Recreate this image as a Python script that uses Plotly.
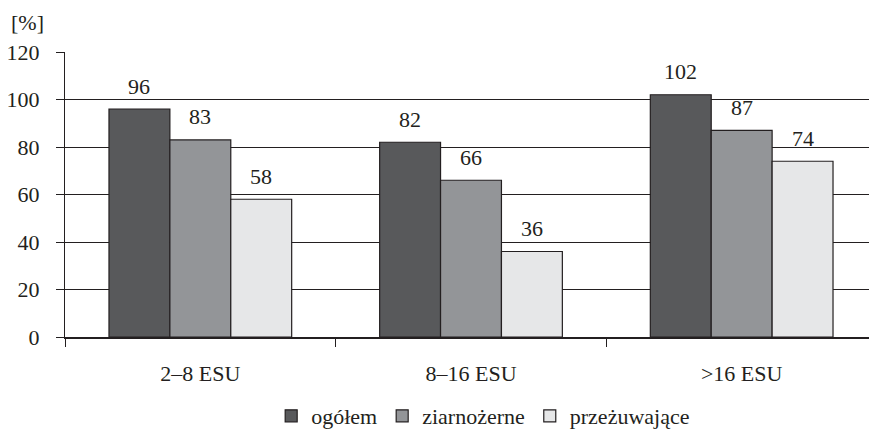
import plotly.graph_objects as go

# data
categories = ["2–8 ESU", "8–16 ESU", ">16 ESU"]
series_names = ["ogółem", "ziarnożerne", "przeżuwające"]
ogolem = [96, 82, 102]
ziarnozerne = [83, 66, 87]
przezuwajace = [58, 36, 74]

colors = ["#58595b", "#939598", "#e6e7e8"]
FONT = "Liberation Serif"
INK = "#231f20"
FS = 22

fig = go.Figure()

all_values = [ogolem, ziarnozerne, przezuwajace]
for name, vals, color in zip(series_names, all_values, colors):
    fig.add_trace(go.Bar(
        x=categories,
        y=vals,
        name=name,
        marker=dict(color=color, line=dict(color=INK, width=1.2)),
    ))

# value labels above the bars
bar_w = 0.225
annotations = []
for k, vals in enumerate(all_values):
    offset = (k - 1) * bar_w
    for i, v in enumerate(vals):
        annotations.append(dict(
            x=i + offset, y=v, xref="x", yref="y",
            text=str(v), showarrow=False,
            yanchor="middle", yshift=23,
            font=dict(family=FONT, size=FS, color=INK),
        ))

# axis unit label
annotations.append(dict(
    x=-56 / 812, y=1 + 30 / 285, xref="paper", yref="paper", text="[%]",
    showarrow=False, xanchor="left", yanchor="middle",
    font=dict(family=FONT, size=FS, color=INK),
))

# the page body adds an 8px offset, margins compensate for it
fig.update_layout(
    width=877, height=432,
    margin=dict(l=57, r=8, t=44, b=103, autoexpand=False),
    paper_bgcolor="white", plot_bgcolor="white",
    barmode="group", bargap=0.325, bargroupgap=0,
    font=dict(family=FONT, size=FS, color=INK),
    showlegend=True,
    legend=dict(
        orientation="h", x=0.515, xanchor="center",
        yref="container", y=24 / 432, yanchor="middle",
        font=dict(family=FONT, size=FS, color=INK),
        itemwidth=30, traceorder="normal",
    ),
    annotations=annotations,
)

fig.update_yaxes(
    range=[0, 120], dtick=20, automargin=False,
    showgrid=True, gridcolor=INK, gridwidth=1,
    showline=True, linecolor=INK, linewidth=1,
    ticks="outside", ticklen=8, tickcolor=INK,
    ticklabelstandoff=12, zeroline=False,
)
fig.update_xaxes(
    automargin=False,
    showline=True, linecolor=INK, linewidth=1.5,
    ticks="outside", ticklen=8, tickcolor=INK,
    tickson="boundaries", ticklabelstandoff=16,
)

fig.write_html("out.html")
